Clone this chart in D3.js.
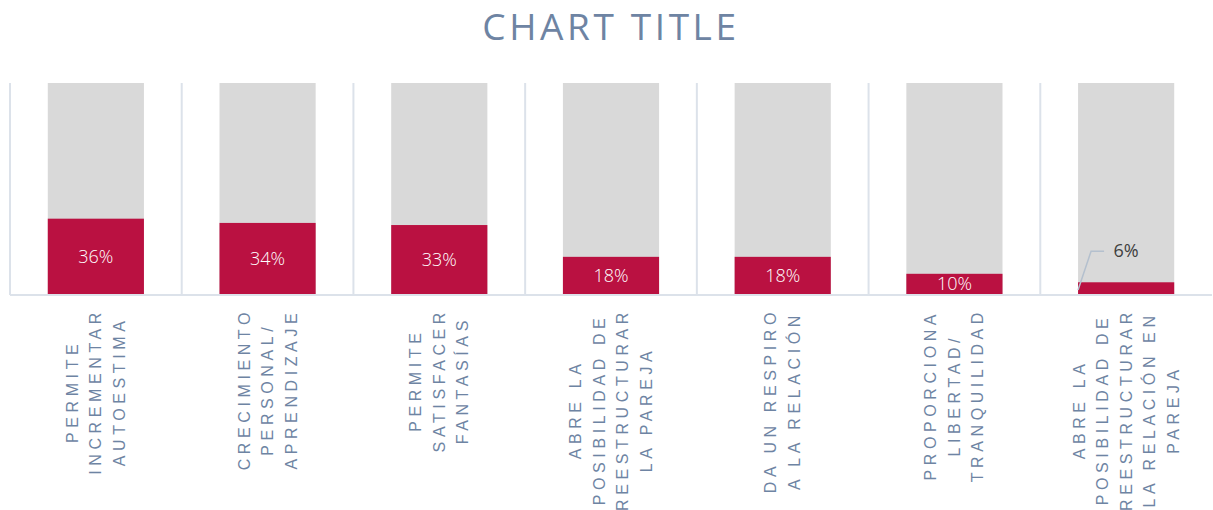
<!DOCTYPE html>
<html>
<head>
<meta charset="utf-8">
<script src="https://cdn.jsdelivr.net/npm/d3@7"></script>
<style>
  body { margin: 0; background: #fff; }
  svg { display: block; }
</style>
</head>
<body>
<div id="chart"></div>
<script>
// chart data
const categories = [
  ["PERMITE", "INCREMENTAR", "AUTOESTIMA"],
  ["CRECIMIENTO", "PERSONAL/", "APRENDIZAJE"],
  ["PERMITE", "SATISFACER", "FANTASÍAS"],
  ["ABRE LA", "POSIBILIDAD DE", "REESTRUCTURAR", "LA PAREJA"],
  ["DA UN RESPIRO", "A LA RELACIÓN"],
  ["PROPORCIONA", "LIBERTAD/", "TRANQUILIDAD"],
  ["ABRE LA", "POSIBILIDAD DE", "REESTRUCTURAR", "LA RELACIÓN EN", "PAREJA"]
]
const values = [36, 34, 33, 18, 18, 10, 6]
const totals = [100, 100, 100, 100, 100, 100, 100]

const width = 1213
const height = 510
const plotLeft = 10, plotRight = 1212, plotTop = 83, plotBottom = 295

const blue = "#6E84A3"
const red = "#BA1141"
const grid = "#DCE2EA"

var svg = d3.select("#chart").append("svg")
  .attr("width", width)
  .attr("height", height)

// title
svg.append("text")
  .attr("x", 611)
  .attr("y", 40)
  .attr("text-anchor", "middle")
  .attr("fill", blue)
  .style("font-family", "'Open Sans', sans-serif")
  .style("font-size", "37px")
  .style("letter-spacing", "3.6px")
  .text("CHART TITLE")

var x = d3.scaleBand()
  .domain(d3.range(values.length))
  .range([plotLeft, plotRight])
  .paddingInner(0)
  .paddingOuter(0)

var y = d3.scaleLinear()
  .domain([0, 100])
  .range([plotBottom, plotTop])

const barW = x.bandwidth() * 0.56

// vertical gridlines at band edges
var edges = d3.range(values.length + 1).map(i => plotLeft + i * x.bandwidth())
svg.append("g").selectAll("line")
  .data(edges.slice(0, -1))
  .enter().append("line")
  .attr("x1", d => d).attr("x2", d => d)
  .attr("y1", plotTop).attr("y2", plotBottom)
  .attr("stroke", grid)
  .attr("stroke-width", 2)

// background (100%) bars
svg.append("g").selectAll("rect")
  .data(totals)
  .enter().append("rect")
  .attr("x", (d, i) => x(i) + (x.bandwidth() - barW) / 2)
  .attr("width", barW)
  .attr("y", d => y(d))
  .attr("height", d => y(0) - y(d))
  .attr("fill", "#D9D9D9")

// value bars
svg.append("g").selectAll("rect")
  .data(values)
  .enter().append("rect")
  .attr("x", (d, i) => x(i) + (x.bandwidth() - barW) / 2)
  .attr("width", barW)
  .attr("y", d => y(d))
  .attr("height", d => y(0) - y(d))
  .attr("fill", red)

// baseline
svg.append("line")
  .attr("x1", plotLeft).attr("x2", plotRight)
  .attr("y1", plotBottom).attr("y2", plotBottom)
  .attr("stroke", grid)
  .attr("stroke-width", 2)

// value labels
values.forEach(function(v, i) {
  var cx = x(i) + x.bandwidth() / 2
  if (v >= 10) {
    svg.append("text")
      .attr("x", cx)
      .attr("y", (y(v) + y(0)) / 2 + 6)
      .attr("text-anchor", "middle")
      .attr("fill", "#fff")
      .style("font-family", "'Open Sans', sans-serif")
      .style("font-size", "18px")
      .style("font-weight", 300)
      .text(v + "%")
  } else {
    // outside label with leader line
    var bx = x(i) + (x.bandwidth() - barW) / 2
    svg.append("polyline")
      .attr("points", [[bx, y(0) - 5], [bx + 13, y(v) - 31], [bx + 26, y(v) - 31]].join(" "))
      .attr("fill", "none")
      .attr("stroke", "#B4C0CE")
      .attr("stroke-width", 1.5)
    svg.append("text")
      .attr("x", bx + 48)
      .attr("y", y(v) - 25)
      .attr("text-anchor", "middle")
      .attr("fill", "#404040")
      .style("font-family", "'Open Sans', sans-serif")
      .style("font-size", "18px")
      .style("font-weight", 400)
      .text(v + "%")
  }
})

// rotated category labels
const lineGap = 23.5
categories.forEach(function(lines, i) {
  var cx = x(i) + x.bandwidth() / 2
  var g = svg.append("g")
  var texts = g.selectAll("text")
    .data(lines)
    .enter().append("text")
    .attr("text-anchor", "middle")
    .attr("fill", blue)
    .style("font-family", "'Liberation Sans', Arial, sans-serif")
    .style("font-size", "16px")
    .style("letter-spacing", "4.6px")
    .text(d => d)
  var maxLen = d3.max(texts.nodes(), n => n.getComputedTextLength())
  var cy = 308 + maxLen / 2
  texts.attr("transform", function(d, k) {
    var lx = cx + (k - (lines.length - 1) / 2) * lineGap + 5.5
    return "translate(" + lx + "," + cy + ") rotate(-90)"
  })
})
</script>
</body>
</html>
